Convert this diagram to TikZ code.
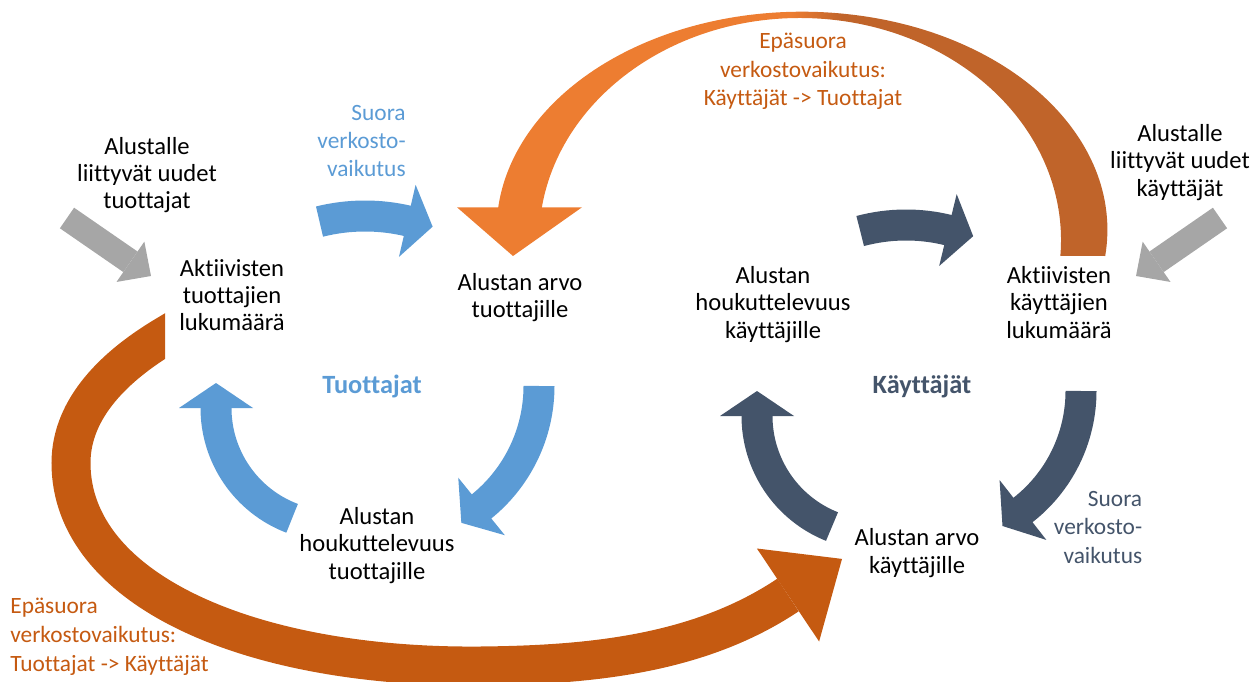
\documentclass[tikz,border=0pt]{standalone}
\usepackage{fontspec}
\setmainfont{Carlito}[Ligatures=CommonOff]
\usetikzlibrary{arrows.meta,calc}
\definecolor{tblue}{RGB}{91,155,213}
\definecolor{kslate}{RGB}{68,84,106}
\definecolor{jgrey}{RGB}{166,166,166}
\definecolor{odark}{RGB}{197,90,17}
\definecolor{olight}{RGB}{237,125,49}
\definecolor{obrown}{RGB}{192,100,42}

\begin{document}
\begin{tikzpicture}[x=0.02cm,y=-0.02cm,line join=miter,
  tshaft/.style={draw=tblue,line width=0.62cm},
  kshaft/.style={draw=kslate,line width=0.62cm},
  gshaft/.style={draw=jgrey,line width=0.5cm,-{Triangle[length=0.5cm,width=0.98cm,line width=0pt]}},
  lbl/.style={font=\fontsize{14}{15.5}\selectfont,align=center,inner sep=0pt,anchor=base},
  side/.style={font=\fontsize{13.3}{16}\selectfont,inner sep=0pt},
  title/.style={font=\fontsize{15}{17}\selectfont\bfseries,inner sep=0pt,anchor=base}]
\useasboundingbox (0,0) rectangle (1257,682);

% centres of the small cycle arrows
\coordinate (tA) at (365,404);
\coordinate (tB) at (384,386);
\coordinate (tC) at (334,408);
\coordinate (kA) at (906,402);
\coordinate (kB) at (930,391);
\coordinate (kC) at (876,416);

% Tuottajat loop
\draw[tshaft] (tA) ++(-104:188) arc (-104:-76.5:188);
\fill[tblue] ($(tA)+(-77:151)$) -- ($(tA)+(-77:188)+(13:26)$) -- ($(tA)+(-77:225)$) -- cycle;
\draw[tshaft] (tB) ++(0:155) arc (0:51.5:155);
\fill[tblue] ($(tB)+(51:118)$) -- ($(tB)+(51:155)+(141:26)$) -- ($(tB)+(51:192)$) -- cycle;
\draw[tshaft] (tC) ++(110.8:118) arc (110.8:180.5:118);
\fill[tblue] ($(tC)+(180:81)$) -- ($(tC)+(180:118)+(270:25)$) -- ($(tC)+(180:155)$) -- cycle;

% Kayttajat loop
\draw[kshaft] (kA) ++(-105:177) arc (-105:-76:177);
\fill[kslate] ($(kA)+(-76.3:140)$) -- ($(kA)+(-76.3:177)+(13.7:26)$) -- ($(kA)+(-76.3:214)$) -- cycle;
\draw[kshaft] (kB) ++(0:151) arc (0:52.5:151);
\fill[kslate] ($(kB)+(52:113)$) -- ($(kB)+(52:151)+(142:26)$) -- ($(kB)+(52:189)$) -- cycle;
\draw[kshaft] (kC) ++(111.7:119) arc (111.7:180.5:119);
\fill[kslate] ($(kC)+(180:82)$) -- ($(kC)+(180:119)+(270:25)$) -- ($(kC)+(180:156)$) -- cycle;

% new producers / users coming in
\coordinate (gt1) at (67,218);
\coordinate (gh1) at (151,276);
\coordinate (gt2) at (1220,218);
\coordinate (gh2) at (1136,276);
\draw[gshaft] (gt1) -- (gh1);
\draw[gshaft] (gt2) -- (gh2);

% indirect effect: users -> producers (thin at the top)
\coordinate (o1s) at (1105.2,256);
\coordinate (o1e) at (513,256);
\begin{scope}
\clip (o1s) arc[start angle=6.84,end angle=-180,x radius=305.4,y radius=218.3]
  -- (539.3,230) arc[start angle=-177.42,end angle=4.13,x radius=261,y radius=222] -- cycle;
\fill[olight] (480,0) rectangle (790,300);
\shade[left color=olight,right color=obrown] (790,0) rectangle (842,300);
\fill[obrown] (842,0) rectangle (1130,300);
\end{scope}
\fill[olight] (457,207.3) -- (o1e) -- (582,207.3) -- cycle;

% indirect effect: producers -> users
\coordinate (o2a) at (185,324);
\coordinate (o2s) at (165,336);
\coordinate (o2e) at (788,595);
\begin{scope}
\clip (0,0) -- (165,0) -- (165,400) -- (1257,400) -- (1257,682) -- (0,682) -- cycle;
\draw[odark,line width=0.78cm] (o2a) -- (o2s) .. controls (117,364.8) and (71,407) .. (71,463)
  .. controls (71,590) and (250,668) .. (480,666) .. controls (588,665) and (698.3,655) .. (o2e);
\end{scope}
\fill[odark] (756.9,548.5) -- (842,558.9) -- (819.1,641.5) -- cycle;

% texts (anchored at the baseline of the last line)
\node[lbl] (uudetT) at (147,209) {Alustalle\\liittyvät uudet\\tuottajat};
\node[lbl] (aktT) at (232,330.7) {Aktiivisten\\tuottajien\\lukumäärä};
\node[lbl] (arvoT) at (520,317.3) {Alustan arvo\\tuottajille};
\node[lbl] (houkT) at (377,579) {Alustan\\houkuttelevuus\\tuottajille};
\node[side,align=right,anchor=base east,text=tblue] (suoraT) at (406,177) {Suora\\verkosto-\\vaikutus};
\node[title,text=tblue] (tuott) at (372,393) {Tuottajat};
\node[side,align=left,anchor=base west,text=odark,font=\fontsize{13.3}{16.4}\selectfont] (epaT) at (10,671.5) {Epäsuora\\verkostovaikutus:\\Tuottajat -> Käyttäjät};
\node[side,align=center,anchor=base,text=odark,font=\fontsize{13.3}{16.4}\selectfont] (epaK) at (803,106) {Epäsuora\\verkostovaikutus:\\Käyttäjät -> Tuottajat};
\node[lbl] (houkK) at (773,338) {Alustan\\houkuttelevuus\\käyttäjille};
\node[lbl] (aktK) at (1059,338) {Aktiivisten\\käyttäjien\\lukumäärä};
\node[lbl] (uudetK) at (1180,196) {Alustalle\\liittyvät uudet\\käyttäjät};
\node[title,text=kslate] (kaytt) at (922,393) {Käyttäjät};
\node[lbl] (arvoK) at (917,573) {Alustan arvo\\käyttäjille};
\node[side,align=right,anchor=base east,text=kslate] (suoraK) at (1142.5,563) {Suora\\verkosto-\\vaikutus};
\end{tikzpicture}
\end{document}
